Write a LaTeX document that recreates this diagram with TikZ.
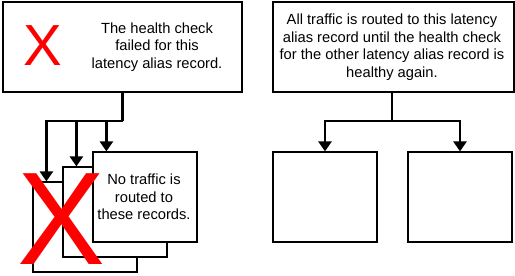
\documentclass[tikz,border=0pt]{standalone}
\usepackage{fontspec}
\setmainfont{Liberation Sans}
\usetikzlibrary{arrows.meta}
\begin{document}
\begin{tikzpicture}[x=1pt,y=-1pt,
  box/.style={draw, line width=1.2pt, fill=white, inner sep=0pt},
  smallbox/.style={box, minimum width=104pt, minimum height=90pt},
  lbl/.style={font=\fontsize{14.7}{17.6}\selectfont, align=center, inner sep=0pt},
  conn/.style={line width=2.5pt, -{Triangle[length=10pt,width=13pt]}},
  trunk/.style={line width=2.5pt},
  redx/.style={text=red, inner sep=0pt}]
\useasboundingbox (0,0) rectangle (515,276);
% left part
\node[box, minimum width=239pt, minimum height=90pt] (fail) at (122.5,47) {};
\node[redx, font=\fontsize{58}{58}\selectfont] (failx) at (42.5,46) {X};
\node[lbl] (failtxt) at (157,47) {The health check\\failed for this\\latency alias record.};
\node[smallbox] (back) at (85,227) {};
\node[smallbox] (mid) at (115,212) {};
\node[smallbox] (front) at (145,197) {};
\node[lbl] (fronttxt) at (144,197) {No traffic is\\routed to\\these records.};
\coordinate (j1) at (122.5,121);
\draw[trunk] (fail.south) -- (j1);
\draw[conn] (j1) -| ([xshift=14pt]back.north west);
\draw[conn] (j1) -| ([xshift=14pt]mid.north west);
\draw[conn] (j1) -| ([xshift=14pt]front.north west);
\node[redx, font=\fontsize{132}{132}\selectfont] (bigx) at (61.5,219) {X};
% right part
\node[box, minimum width=241pt, minimum height=90pt] (ok) at (393.5,47) {};
\node[lbl] (oktxt) at (392,47) {All traffic is routed to this latency\\alias record until the health check\\for the other latency alias record is\\healthy again.};
\node[smallbox] (r1) at (325,197) {};
\node[smallbox] (r2) at (460,197) {};
\coordinate (j2) at (392,121);
\draw[trunk] ([xshift=-1.5pt]ok.south) -- (j2);
\draw[conn] (j2) -| (r1.north);
\draw[conn] (j2) -| (r2.north);
\end{tikzpicture}
\end{document}
